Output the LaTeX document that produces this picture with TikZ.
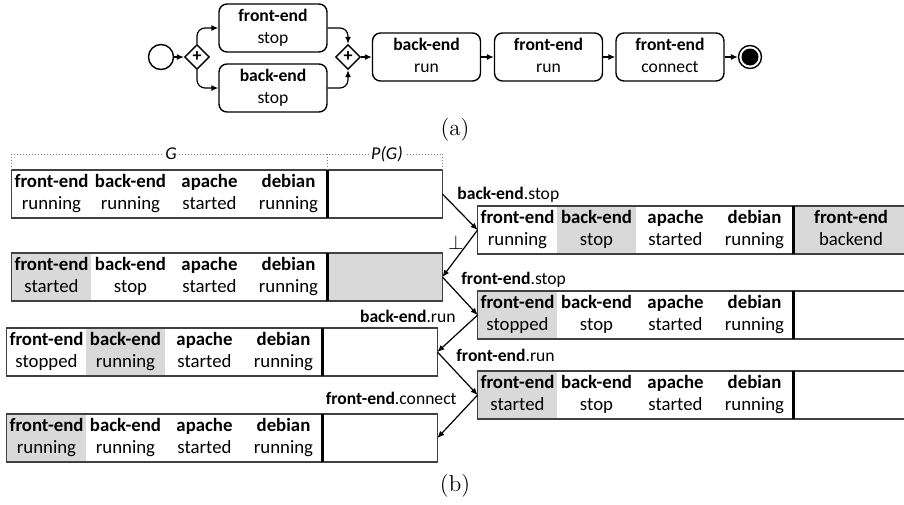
\documentclass[tikz,border=0pt]{standalone}
\usepackage{fontspec}
\usepackage{tikz}
\usetikzlibrary{shapes.geometric,arrows.meta}
\newfontfamily\cfont{Carlito}
\definecolor{cellgray}{gray}{0.85}

\begin{document}
\begin{tikzpicture}[x=0.5pt, y=-0.5pt, >={Latex[length=3.5pt,width=3pt]},
    every node/.style={font=\cfont\fontsize{8.8}{11}\selectfont},
    task/.style={draw, rounded corners=4pt, line width=0.7pt, minimum width=54pt, minimum height=24pt, align=center, inner sep=0pt},
    gate/.style={draw, diamond, line width=0.7pt, minimum size=12.5pt, inner sep=0pt, font=\cfont\bfseries\fontsize{9}{9}\selectfont},
    flow/.style={->, line width=0.6pt},
    cell/.style={minimum width=39.5pt, minimum height=23.5pt, inner sep=0pt, align=center, font=\cfont\fontsize{9.4}{11.2}\selectfont},
    pcell/.style={cell, minimum width=57pt},
    frame/.style={draw=black!75, line width=0.75pt},
    divider/.style={line width=1.3pt},
    trans/.style={->, line width=0.6pt},
    lbl/.style={inner sep=1pt},
    brace/.style={densely dotted, black!50, line width=0.5pt},
    setname/.style={fill=white, inner sep=1pt, font=\cfont\itshape\fontsize{9}{11}\selectfont}]
    \useasboundingbox (0,0) rectangle (904,504);

    % (a) process
    \node[circle, draw, line width=0.7pt, minimum size=12.5pt, inner sep=0pt] (start) at (161,57) {};
    \node[gate] (gw1) at (197,57) {+};
    \node[task] (t1) at (273,28) {\strut\textbf{front-end}\\\strut stop};
    \node[task] (t2) at (273,88) {\strut\textbf{back-end}\\\strut stop};
    \node[gate] (gw2) at (348,57) {+};
    \node[task] (t3) at (426.5,57) {\strut\textbf{back-end}\\\strut run};
    \node[task] (t4) at (548.5,57) {\strut\textbf{front-end}\\\strut run};
    \node[task] (t5) at (670,57) {\strut\textbf{front-end}\\\strut connect};
    \node[circle, draw, line width=0.7pt, minimum size=11.5pt, inner sep=0pt] (end) at (750,57) {};
    \node[circle, fill=black, minimum size=8.5pt, inner sep=0pt] (endc) at (end) {};
    \node[font=\rmfamily\fontsize{11.5}{13}\selectfont] (capa) at (455,130) {(a)};

    \draw[flow] (start) -- (gw1);
    \draw[flow, rounded corners=4pt] (gw1.north) |- (t1.west);
    \draw[flow, rounded corners=4pt] (gw1.south) |- (t2.west);
    \draw[flow, rounded corners=4pt] (t1.east) -| (gw2.north);
    \draw[flow, rounded corners=4pt] (t2.east) -| (gw2.south);
    \draw[flow] (gw2) -- (t3);
    \draw[flow] (t3) -- (t4);
    \draw[flow] (t4) -- (t5);
    \draw[flow] (t5) -- (end);

    % (b) states
    \foreach \h/\s/\f [count=\i from 0] in {front-end/running/white, back-end/running/white, apache/started/white, debian/running/white}
        \node[cell, fill=\f] (g0-\i) at ({51.5+79*\i},194) {\strut\textbf{\h}\\\strut\s};
    \node[pcell, fill=white] (g0-p) at (385,194) {};

    \foreach \h/\s/\f [count=\i from 0] in {front-end/running/white, back-end/stop/cellgray, apache/started/white, debian/running/white}
        \node[cell, fill=\f] (g1-\i) at ({517.5+79*\i},230) {\strut\textbf{\h}\\\strut\s};
    \node[pcell, fill=cellgray] (g1-p) at (851,230) {\strut\textbf{front-end}\\\strut backend};

    \foreach \h/\s/\f [count=\i from 0] in {front-end/started/cellgray, back-end/stop/white, apache/started/white, debian/running/white}
        \node[cell, fill=\f] (g2-\i) at ({51.5+79*\i},277) {\strut\textbf{\h}\\\strut\s};
    \node[pcell, fill=cellgray] (g2-p) at (385,277) {};

    \foreach \h/\s/\f [count=\i from 0] in {front-end/stopped/cellgray, back-end/stop/white, apache/started/white, debian/running/white}
        \node[cell, fill=\f] (g3-\i) at ({517.5+79*\i},315) {\strut\textbf{\h}\\\strut\s};
    \node[pcell, fill=white] (g3-p) at (851,315) {};

    \foreach \h/\s/\f [count=\i from 0] in {front-end/stopped/white, back-end/running/cellgray, apache/started/white, debian/running/white}
        \node[cell, fill=\f] (g4-\i) at ({46.5+79*\i},352) {\strut\textbf{\h}\\\strut\s};
    \node[pcell, fill=white] (g4-p) at (380,352) {};

    \foreach \h/\s/\f [count=\i from 0] in {front-end/started/cellgray, back-end/stop/white, apache/started/white, debian/running/white}
        \node[cell, fill=\f] (g5-\i) at ({517.5+79*\i},395) {\strut\textbf{\h}\\\strut\s};
    \node[pcell, fill=white] (g5-p) at (851,395) {};

    \foreach \h/\s/\f [count=\i from 0] in {front-end/running/cellgray, back-end/running/white, apache/started/white, debian/running/white}
        \node[cell, fill=\f] (g6-\i) at ({46.5+79*\i},438) {\strut\textbf{\h}\\\strut\s};
    \node[pcell, fill=white] (g6-p) at (380,438) {};

    % frames
    \foreach \r in {g0,g1,g2,g3,g4,g5,g6} {
        \draw[frame] (\r-0.north west) rectangle (\r-p.south east);
        \draw[divider] (\r-p.north west) -- (\r-p.south west);
    }

    % G / P(G)
    \draw[brace] (g0-0.north west) -- ++(0,-16) -| (g0-p.north east);
    \draw[brace] (g0-p.north west) -- ++(0,-16);
    \node[setname] (lg) at (171,154) {G};
    \node[setname] (lpg) at (387,154) {P(G)};

    % transitions
    \draw[trans] (g0-p.east) -- (g1-0.west);
    \draw[trans] (g1-0.west) -- (g2-p.east);
    \draw[trans] (g2-p.east) -- (g3-0.west);
    \draw[trans] (g3-0.west) -- (g4-p.east);
    \draw[trans] (g4-p.east) -- (g5-0.west);
    \draw[trans] (g5-0.west) -- (g6-p.east);
    \node[lbl, anchor=west] (l1) at (455,195) {\textbf{back-end}.stop};
    \node[lbl, font=\fontsize{10}{12}\selectfont] (l2) at (456,243) {$\perp$};
    \node[lbl, anchor=west] (l3) at (459,280) {\textbf{front-end}.stop};
    \node[lbl, anchor=east] (l4) at (458,316) {\textbf{back-end}.run};
    \node[lbl, anchor=west] (l5) at (454,355) {\textbf{front-end}.run};
    \node[lbl, anchor=east] (l6) at (459,398) {\textbf{front-end}.connect};
    \node[font=\rmfamily\fontsize{11.5}{13}\selectfont] (capb) at (455,486) {(b)};
\end{tikzpicture}
\end{document}
